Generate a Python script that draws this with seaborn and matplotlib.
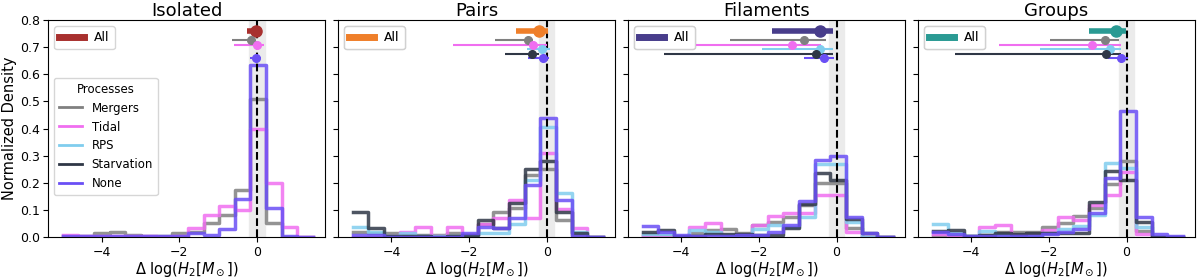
import numpy as np
import matplotlib.pyplot as plt
import seaborn as sns
from matplotlib.lines import Line2D

environments = ['Isolated', 'Pairs', 'Filaments', 'Groups']
processes = ['Mergers', 'Tidal', 'RPS', 'Starvation', 'None']
process_colors = ['grey', '#f06ef0', '#80cdee', '#2f3746', '#6a4ff5']
all_colors = ['#a8302e', '#ef7f2a', '#483d8b', '#2a9a93']

# histogram bin edges (Delta log H2)
bin_edges = [-5.0, -4.597, -4.194, -3.791, -3.388, -2.984, -2.581, -2.178,
             -1.775, -1.372, -0.969, -0.566, -0.163, 0.241, 0.644, 1.047, 1.45]

# normalized density per bin, per process
heights_isolated = {
    'Mergers': [0.005, 0.005, 0.015, 0.02, 0.01, 0.007, 0.007, 0.015,
                0.02, 0.054, 0.082, 0.174, 0.509, 0.052, 0.0, 0.0],
    'Tidal': [0.01, 0.005, 0.007, 0.007, 0.007, 0.007, 0.003, 0.005,
              0.033, 0.082, 0.115, 0.10, 0.40, 0.199, 0.039, 0.0],
    'RPS': None,
    'Starvation': None,
    'None': [0.004, 0.004, 0.004, 0.004, 0.004, 0.004, 0.004, 0.005,
             0.018, 0.009, 0.031, 0.141, 0.634, 0.11, 0.005, 0.003],
}
heights_pairs = {
    'Mergers': [0.02, 0.015, 0.017, 0.01, 0.01, 0.008, 0.017, 0.008,
                0.05, 0.095, 0.11, 0.23, 0.25, 0.065, 0.01, 0.0],
    'Tidal': [0.0, 0.0, 0.005, 0.02, 0.037, 0.005, 0.037, 0.01,
              0.05, 0.07, 0.137, 0.07, 0.31, 0.103, 0.036, 0.0],
    'RPS': [0.04, 0.02, 0.005, 0.017, 0.005, 0.005, 0.005, 0.005,
            0.017, 0.015, 0.05, 0.21, 0.405, 0.165, 0.02, 0.0],
    'Starvation': [0.094, 0.033, 0.005, 0.005, 0.005, 0.0, 0.005, 0.009,
                   0.064, 0.035, 0.125, 0.25, 0.28, 0.094, 0.015, 0.0],
    'None': [0.008, 0.008, 0.003, 0.003, 0.003, 0.003, 0.003, 0.015,
             0.04, 0.033, 0.07, 0.193, 0.438, 0.137, 0.005, 0.0],
}
heights_filaments = {
    'Mergers': [0.005, 0.005, 0.003, 0.015, 0.027, 0.03, 0.015, 0.045,
                0.058, 0.074, 0.12, 0.2, 0.2, 0.033, 0.003, 0.0],
    'Tidal': [0.005, 0.003, 0.003, 0.037, 0.054, 0.01, 0.008, 0.045,
              0.079, 0.091, 0.09, 0.156, 0.156, 0.02, 0.0, 0.0],
    'RPS': [0.011, 0.011, 0.003, 0.027, 0.021, 0.01, 0.008, 0.03,
            0.045, 0.037, 0.076, 0.27, 0.27, 0.058, 0.003, 0.0],
    'Starvation': [0.021, 0.027, 0.005, 0.005, 0.012, 0.012, 0.012, 0.009,
                   0.01, 0.035, 0.123, 0.236, 0.21, 0.066, 0.015, 0.0],
    'None': [0.042, 0.021, 0.009, 0.005, 0.005, 0.005, 0.01, 0.009,
             0.02, 0.045, 0.135, 0.285, 0.30, 0.074, 0.015, 0.003],
}
heights_groups = {
    'Mergers': [0.006, 0.006, 0.006, 0.01, 0.021, 0.021, 0.021, 0.039,
                0.052, 0.079, 0.107, 0.196, 0.282, 0.025, 0.0, 0.0],
    'Tidal': [0.012, 0.003, 0.003, 0.037, 0.045, 0.01, 0.01, 0.027,
              0.074, 0.064, 0.119, 0.156, 0.242, 0.012, 0.0, 0.0],
    'RPS': [0.049, 0.017, 0.005, 0.025, 0.01, 0.006, 0.006, 0.015,
            0.03, 0.042, 0.082, 0.272, 0.254, 0.04, 0.0, 0.0],
    'Starvation': [0.025, 0.029, 0.005, 0.008, 0.015, 0.012, 0.015, 0.015,
                   0.015, 0.017, 0.129, 0.245, 0.211, 0.058, 0.0, 0.0],
    'None': [0.021, 0.012, 0.006, 0.006, 0.006, 0.006, 0.006, 0.012,
             0.02, 0.03, 0.091, 0.217, 0.466, 0.076, 0.012, 0.006],
}
all_heights = [heights_isolated, heights_pairs, heights_filaments, heights_groups]

# medians and ranges of Delta log H2 (All sample)
all_med = [-0.03, -0.2, -0.44, -0.26]
all_lo = [-0.24, -0.8, -1.67, -0.97]
all_hi = [0.06, 0.03, -0.09, -0.02]

# medians and ranges per process: Mergers, Tidal, RPS, Starvation, None
med_isolated = [-0.14, 0.0, np.nan, np.nan, -0.03]
lo_isolated = [-0.63, -0.59, np.nan, np.nan, -0.17]
hi_isolated = [-0.07, 0.19, np.nan, np.nan, 0.10]
med_pairs = [-0.48, -0.34, -0.12, -0.38, -0.10]
lo_pairs = [-1.34, -2.41, -0.51, -1.07, -0.47]
hi_pairs = [-0.36, 0.01, 0.09, -0.21, 0.05]
med_filaments = [-0.84, -1.14, -0.43, -0.54, -0.33]
lo_filaments = [-2.75, -3.63, -1.91, -4.46, -0.84]
hi_filaments = [-0.28, -0.41, -0.09, -0.09, -0.07]
med_groups = [-0.55, -0.90, -0.42, -0.53, -0.13]
lo_groups = [-1.97, -3.29, -2.22, -4.43, -0.49]
hi_groups = [-0.19, -0.15, -0.15, -0.15, 0.05]
proc_med = [med_isolated, med_pairs, med_filaments, med_groups]
proc_lo = [lo_isolated, lo_pairs, lo_filaments, lo_groups]
proc_hi = [hi_isolated, hi_pairs, hi_filaments, hi_groups]

all_y = 0.76
proc_y = [0.725, 0.708, 0.692, 0.675, 0.658]


def plot_panel(ax, k):
    centers = [(a + b) / 2 for a, b in zip(bin_edges[:-1], bin_edges[1:])]
    ax.axvspan(-0.2, 0.2, color='#ebebeb', zorder=0)
    for proc, color in zip(processes, process_colors):
        h = all_heights[k][proc]
        if h is None:
            continue
        sns.histplot(x=centers, weights=h, bins=bin_edges, element='step',
                     fill=False, color=color, linewidth=2.5, alpha=0.85, ax=ax)
    ax.axvline(0, color='k', linestyle='--', linewidth=1.5, zorder=5)

    # error bars
    med, lo, hi = all_med[k], all_lo[k], all_hi[k]
    ax.errorbar(med, all_y, xerr=[[med - lo], [hi - med]], fmt='o',
                color=all_colors[k], ms=8, elinewidth=4, capsize=0, zorder=6)
    for i, color in enumerate(process_colors):
        m = proc_med[k][i]
        if np.isnan(m):
            continue
        ax.errorbar(m, proc_y[i], xerr=[[m - proc_lo[k][i]], [proc_hi[k][i] - m]],
                    fmt='o', color=color, ms=5.5, elinewidth=1.5, capsize=0, zorder=6)

    all_leg = ax.legend([Line2D([], [], color=all_colors[k], lw=5)], ['All'],
                        loc='upper left', fontsize=9)
    ax.add_artist(all_leg)

    ax.set_title(environments[k], fontsize=13, pad=3)
    ax.set_xlabel(r'$\Delta$ log($H_2[M_\odot]$)', fontsize=10.5, labelpad=1)
    ax.set_ylabel('')
    ax.set_xlim(-5.38, 1.77)
    ax.set_xticks([-4, -2, 0])
    ax.set_ylim(0, 0.8)
    ax.tick_params(labelsize=9, pad=2.5)


fig, axes = plt.subplots(1, 4, figsize=(12, 2.8), sharey=True)
plt.subplots_adjust(left=0.04, right=0.996, top=0.929, bottom=0.152, wspace=0.045)

for k, ax in enumerate(axes):
    plot_panel(ax, k)

axes[0].set_ylabel('Normalized Density', fontsize=10.5, labelpad=2)
axes[0].set_yticks(np.arange(0, 0.81, 0.1))
axes[0].yaxis.set_major_formatter(plt.FormatStrFormatter('%.1f'))

proc_handles = [Line2D([], [], color=c, lw=2) for c in process_colors]
axes[0].legend(proc_handles, processes, title='Processes', loc='upper left',
               bbox_to_anchor=(0.0, 0.76), fontsize=8.5, title_fontsize=8.5)

plt.savefig('out.png', dpi=100)
plt.close()
